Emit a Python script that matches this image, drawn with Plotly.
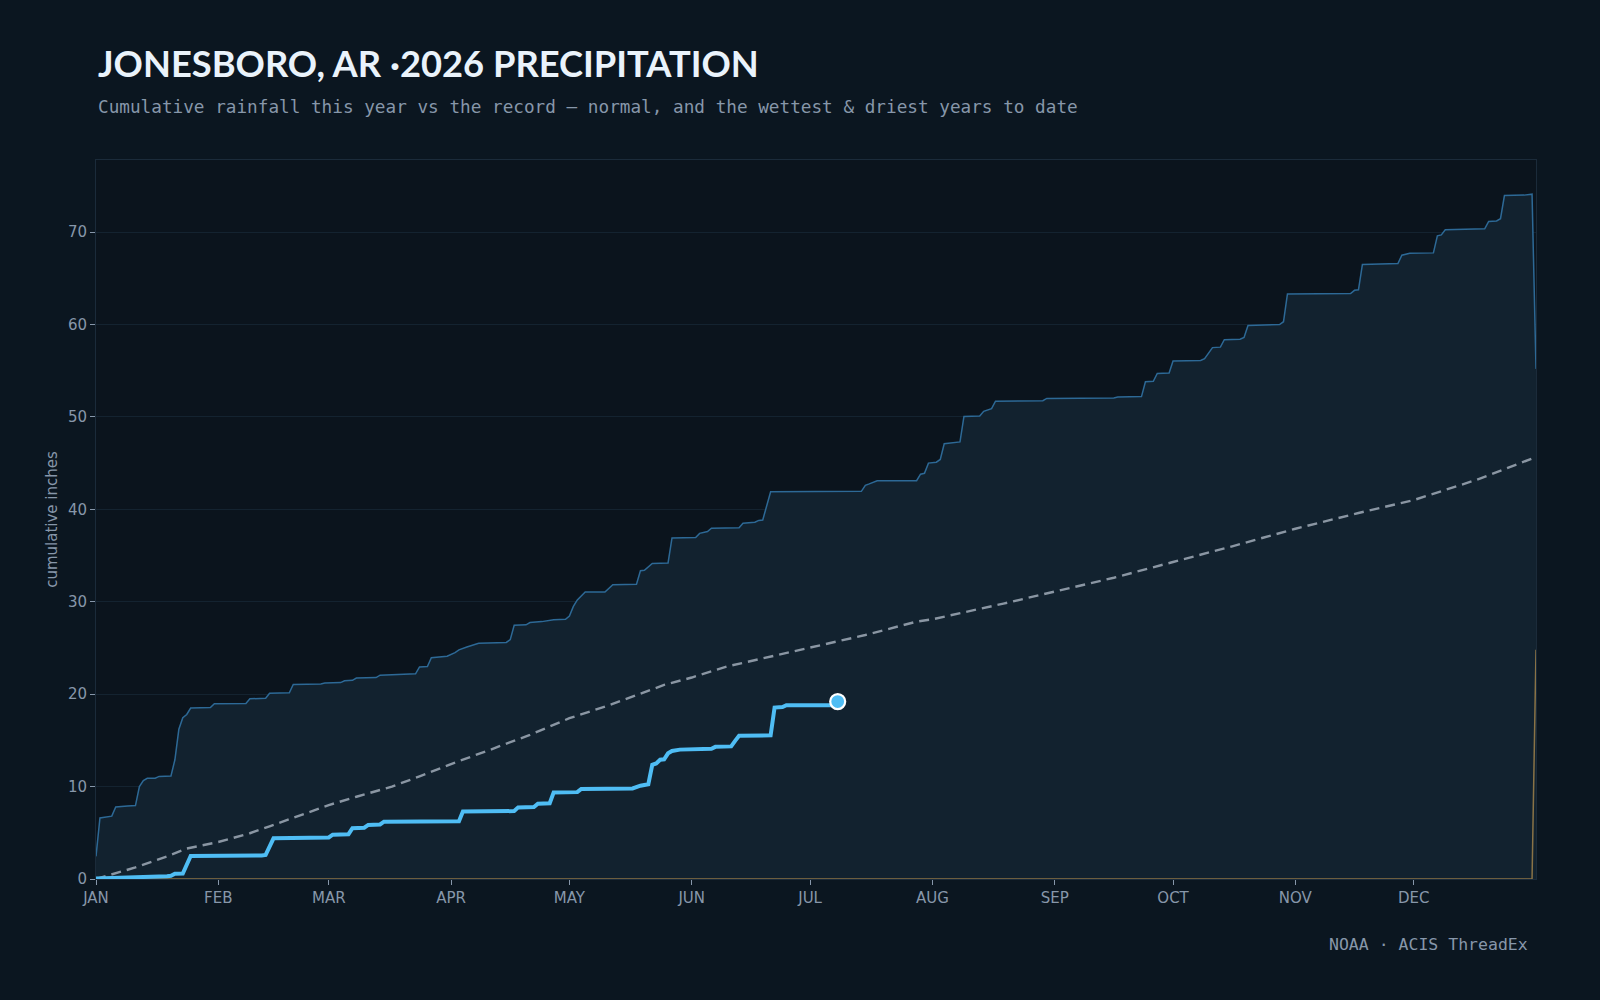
import plotly.graph_objects as go

# ---------------- data ----------------
month_days = [0, 31, 59, 90, 120, 151, 181, 212, 243, 273, 304, 334]
month_labels = ["JAN", "FEB", "MAR", "APR", "MAY", "JUN", "JUL", "AUG", "SEP", "OCT", "NOV", "DEC"]

wettest_day = [0, 1, 4, 5, 8, 10, 11, 12, 13, 15, 16, 19, 20, 21, 22, 23, 24, 29, 30, 38, 39, 43, 44, 49, 50,
               57, 58, 62, 63, 65, 66, 71, 72, 81, 82, 84, 85, 89, 91, 92, 94, 97, 104, 105, 106, 109, 110,
               113, 116, 119, 120, 121, 122, 124, 129, 131, 137, 138, 139, 141, 145, 146, 152, 153, 155, 156,
               163, 164, 167, 168, 169, 171, 194, 195, 196, 198, 208, 209, 210, 211, 213, 214, 215, 219, 220,
               224, 225, 227, 228, 240, 241, 258, 259, 265, 266, 268, 269, 272, 273, 280, 281, 283, 285, 286,
               290, 291, 292, 300, 301, 302, 318, 319, 320, 321, 330, 331, 333, 339, 340, 341, 342, 352, 353,
               355, 356, 357, 362, 364, 365]
wettest_in = [2.45, 6.6, 6.8, 7.8, 7.9, 7.95, 10.0, 10.66, 10.9, 10.9, 11.1, 11.15, 12.9, 16.2, 17.45, 17.8,
              18.5, 18.55, 18.97, 19.0, 19.5, 19.55, 20.1, 20.15, 21.05, 21.1, 21.2, 21.25, 21.45, 21.5, 21.75,
              21.8, 22.05, 22.2, 22.95, 23.0, 23.95, 24.1, 24.5, 24.8, 25.1, 25.5, 25.6, 25.9, 27.45, 27.5,
              27.75, 27.85, 28.05, 28.1, 28.45, 29.5, 30.2, 31.05, 31.05, 31.85, 31.9, 33.35, 33.4, 34.15,
              34.2, 36.9, 36.95, 37.4, 37.6, 37.95, 38.0, 38.5, 38.6, 38.8, 38.85, 41.9, 41.95, 42.6, 42.75,
              43.1, 43.1, 43.8, 43.9, 45.0, 45.1, 45.4, 47.1, 47.3, 50.05, 50.1, 50.6, 50.9, 51.7, 51.75,
              52.0, 52.05, 52.15, 52.2, 53.8, 53.85, 54.7, 54.75, 56.05, 56.1, 56.3, 57.5, 57.55, 58.35,
              58.4, 58.6, 59.9, 60.0, 60.3, 63.3, 63.35, 63.7, 63.75, 66.5, 66.6, 67.5, 67.7, 67.75, 69.6,
              69.7, 70.25, 70.35, 71.15, 71.2, 71.45, 73.95, 74.0, 74.1, 55.2]

driest_day = [0, 364, 365]
driest_in = [0.0, 0.0, 24.8]

normal_day = [0, 10, 18, 20, 23, 31, 39, 44, 52, 59, 66, 75, 82, 91, 100, 110, 120, 130, 144, 151, 160, 181,
              195, 208, 212, 230, 243, 258, 273, 288, 304, 320, 334, 350, 364, 365]
normal_in = [0.0, 1.25, 2.45, 2.8, 3.3, 4.0, 4.95, 5.7, 6.9, 8.0, 8.9, 10.0, 11.1, 12.6, 14.0, 15.6, 17.4,
             18.8, 21.0, 21.8, 23.0, 25.0, 26.4, 27.85, 28.1, 29.8, 31.1, 32.6, 34.3, 36.0, 37.9, 39.6,
             41.0, 43.2, 45.5, 45.3]

year_day = [0, 10, 18, 19, 20, 22, 24, 42, 43, 45, 50, 51, 59, 60, 64, 65, 68, 69, 72, 73, 92, 93, 106, 107,
            111, 112, 115, 116, 122, 123, 136, 138, 139, 140, 141, 142, 143, 144, 145, 146, 148, 151, 156,
            157, 161, 162, 163, 171, 172, 174, 175, 187, 188]
year_in = [0.05, 0.15, 0.3, 0.35, 0.57, 0.6, 2.5, 2.55, 2.6, 4.4, 4.45, 4.5, 4.5, 4.8, 4.85, 5.5, 5.55, 5.85,
           5.9, 6.2, 6.25, 7.3, 7.35, 7.75, 7.8, 8.15, 8.2, 9.35, 9.4, 9.75, 9.8, 10.1, 10.2, 10.25, 12.35,
           12.5, 12.9, 12.95, 13.6, 13.85, 14.0, 14.05, 14.1, 14.3, 14.35, 14.95, 15.5, 15.55, 18.55, 18.6,
           18.8, 18.8, 19.2]

title_text = "JONESBORO, AR ·2026 PRECIPITATION"
subtitle_text = "Cumulative rainfall this year vs the record — normal, and the wettest &amp; driest years to date"
source_text = "NOAA · ACIS ThreadEx"

# ---------------- figure ----------------
PAPER = "#0b1620"
PLOT = "#0b141d"
MUTED = "#8797aa"

fig = go.Figure()

fig.add_trace(go.Scatter(
    x=wettest_day, y=wettest_in, mode="lines", name="wettest",
    line=dict(color="#2d6996", width=1.5), fill="tozeroy", fillcolor="#12222f",
    hoverinfo="skip"))

fig.add_trace(go.Scatter(
    x=driest_day, y=driest_in, mode="lines", name="driest",
    line=dict(color="#8a7346", width=1.5), hoverinfo="skip"))

fig.add_trace(go.Scatter(
    x=normal_day, y=normal_in, mode="lines", name="normal",
    line=dict(color="#8a96a3", width=2.4, dash="10px,6px"), hoverinfo="skip"))

fig.add_trace(go.Scatter(
    x=year_day, y=year_in, mode="lines", name="2026",
    line=dict(color="#4fbdf4", width=4), hoverinfo="skip"))

fig.add_trace(go.Scatter(
    x=[year_day[-1]], y=[year_in[-1]], mode="markers", name="today",
    marker=dict(color="#4fbdf4", size=15, line=dict(color="#ffffff", width=2.2)),
    hoverinfo="skip"))

fig.update_layout(
    width=1600, height=1000,
    paper_bgcolor=PAPER, plot_bgcolor=PLOT,
    margin=dict(l=96, r=64, t=160, b=121),
    showlegend=False,
    font=dict(family="DejaVu Sans", color=MUTED, size=15),
    annotations=[
        dict(text=title_text, xref="paper", yref="paper", x=0, y=1.1349,
             xanchor="left", yanchor="middle", showarrow=False,
             font=dict(family="Lato", size=36.3, color="#eaf3fb", weight="bold")),
        dict(text=subtitle_text, xref="paper", yref="paper", x=0, y=1.0735,
             xanchor="left", yanchor="middle", showarrow=False,
             font=dict(family="DejaVu Sans Mono", size=17.7, color=MUTED)),
        dict(text=source_text, xref="paper", yref="paper", x=0.9958, y=-0.0915,
             xanchor="right", yanchor="middle", showarrow=False,
             font=dict(family="DejaVu Sans Mono", size=16.5, color=MUTED)),
    ],
)

fig.update_xaxes(
    range=[0, 365], tickvals=month_days, ticktext=month_labels,
    showgrid=False, zeroline=False,
    showline=True, linecolor="#1b2b3a", linewidth=1, mirror=True,
    ticks="outside", ticklen=5, tickcolor=MUTED, tickwidth=1,
    tickfont=dict(family="DejaVu Sans", size=15, color=MUTED),
)
fig.update_yaxes(
    range=[0, 77.8], tickvals=[0, 10, 20, 30, 40, 50, 60, 70],
    showgrid=True, gridcolor="#142330", gridwidth=1, zeroline=False,
    showline=True, linecolor="#1b2b3a", linewidth=1, mirror=True,
    ticks="outside", ticklen=5, tickcolor=MUTED, tickwidth=1,
    tickfont=dict(family="DejaVu Sans", size=15, color=MUTED),
    title=dict(text="cumulative inches", standoff=6,
               font=dict(family="DejaVu Sans", size=15, color=MUTED)),
)

fig.write_html("out.html")
